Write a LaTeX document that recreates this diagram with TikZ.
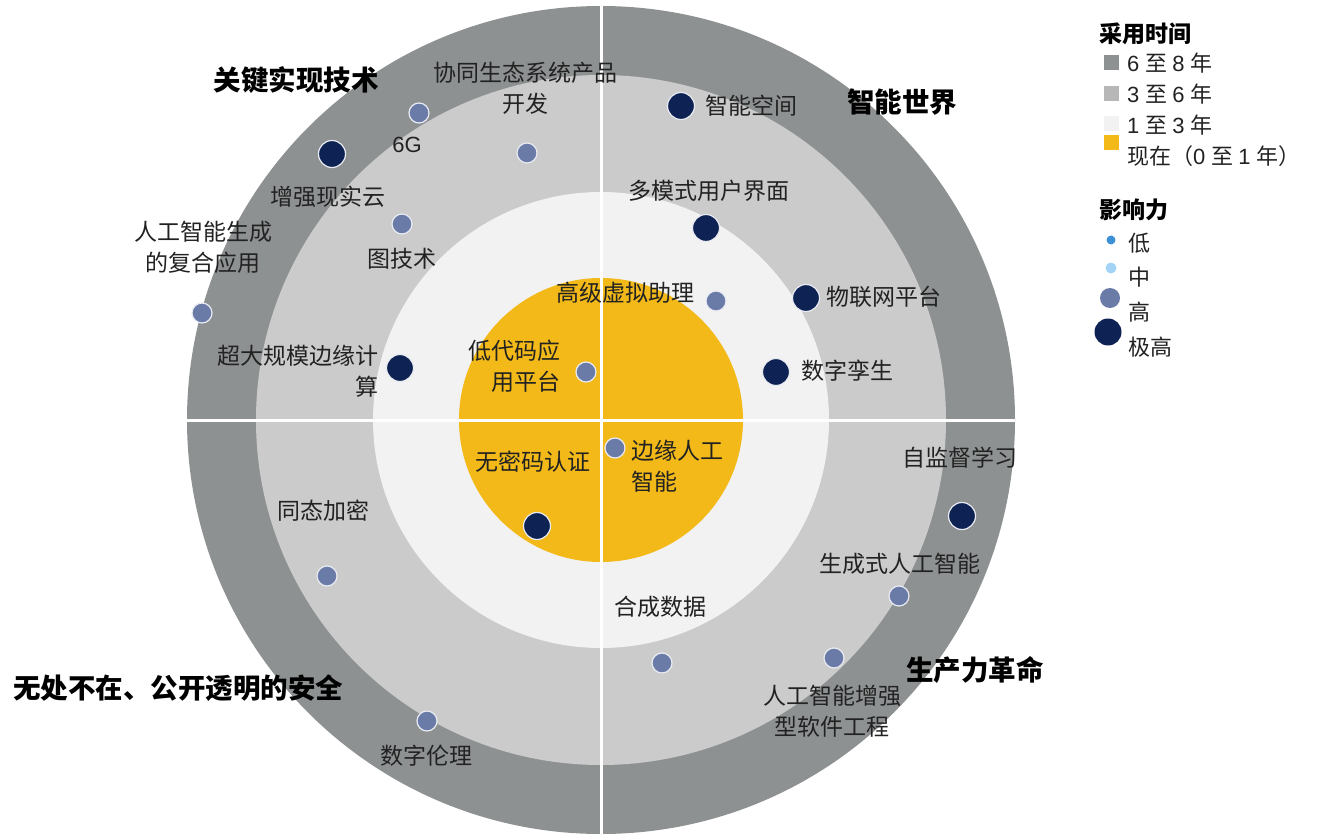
\documentclass[tikz,border=0pt]{standalone}
\usepackage{fontspec}
\setmainfont{Noto Sans CJK SC}
\newfontfamily\latinf{Liberation Sans}
\definecolor{ringA}{HTML}{8E9192}
\definecolor{ringB}{HTML}{CBCBCB}
\definecolor{ringC}{HTML}{F2F2F2}
\definecolor{ringD}{HTML}{F2B918}
\definecolor{navy}{HTML}{0E2353}
\definecolor{slate}{HTML}{6B7BA8}
\definecolor{lowblue}{HTML}{3D8FD6}
\definecolor{midblue}{HTML}{A3D4F5}
\definecolor{txt}{HTML}{222222}
\tikzset{
  dotx/.style={circle, fill=navy, draw=white!85!slate, line width=1.2pt, minimum size=27pt, inner sep=0pt},
  doth/.style={circle, fill=slate, draw=white!85!slate, line width=1.2pt, minimum size=20pt, inner sep=0pt},
  lbl/.style={text=txt, font=\fontsize{23}{31}\selectfont, align=center, inner sep=0pt},
  ttl/.style={text=black, font=\fontsize{27.5}{30}\selectfont\bfseries, inner sep=0pt},
  legt/.style={text=black, font=\fontsize{23}{26}\selectfont\bfseries, anchor=west, inner sep=0pt},
  legi/.style={text=txt, font=\fontsize{22}{26}\selectfont, anchor=west, inner sep=0pt},
  sq/.style={minimum size=15pt, inner sep=0pt}
}
\begin{document}
\begin{tikzpicture}[x=1pt,y=-1pt]
\useasboundingbox (0,0) rectangle (1320,837);
% rings
\fill[ringA] (601,420) circle[radius=414];
\fill[ringB] (601,420) circle[radius=345];
\fill[ringC] (601,420) circle[radius=228];
\fill[ringD] (601,420) circle[radius=142];
\draw[white, line width=3pt] (601,6) -- (601,834);
\draw[white, line width=3pt] (187,420) -- (1015,420);
% section titles
\node[ttl] (t1) at (296,80) {关键实现技术};
\node[ttl] (t2) at (902,102) {智能世界};
\node[ttl] (t3) at (178,688) {无处不在、公开透明的安全};
\node[ttl] (t4) at (975,670) {生产力革命};
% upper left
\node[doth] (d6g) at (419,113) {};
\node[lbl, font=\fontsize{22}{24}\selectfont\latinf] (l6g) at (407,145) {6G};
\node[dotx] (dar) at (332,154) {};
\node[lbl] (lar) at (328,197) {增强现实云};
\node[doth] (deco) at (527,153) {};
\node[lbl] (leco) at (525,88) {协同生态系统产品\\开发};
\node[doth] (dgraph) at (402,224) {};
\node[lbl] (lgraph) at (402,259) {图技术};
\node[doth] (dcomp) at (202,313) {};
\node[lbl] (lcomp) at (203,247) {人工智能生成\\的复合应用};
\node[dotx] (dedge) at (400,368) {};
\node[lbl, align=right, anchor=east] (ledge) at (379,371) {超大规模边缘计\\算};
\node[doth] (dlow) at (586,372) {};
\node[lbl, align=right, anchor=east] (llow) at (561,366) {低代码应\\用平台};
% upper right
\node[doth] (dva) at (716,301) {};
\node[lbl] (lva) at (625,293) {高级虚拟助理};
\node[dotx] (dspace) at (681,106) {};
\node[lbl, anchor=west] (lspace) at (705,106) {智能空间};
\node[dotx] (dui) at (706,228) {};
\node[lbl] (lui) at (709,191) {多模式用户界面};
\node[dotx] (diot) at (806,298) {};
\node[lbl, anchor=west] (liot) at (826,297) {物联网平台};
\node[dotx] (dtwin) at (776,372) {};
\node[lbl, anchor=west] (ltwin) at (801,371) {数字孪生};
% lower right
\node[doth] (deai) at (615,448) {};
\node[lbl, align=left, anchor=west] (leai) at (631,466) {边缘人工\\智能};
\node[dotx] (dssl) at (962,516) {};
\node[lbl] (lssl) at (960,458) {自监督学习};
\node[doth] (dgen) at (899,596) {};
\node[lbl] (lgen) at (900,564) {生成式人工智能};
\node[doth] (dsyn) at (662,663) {};
\node[lbl] (lsyn) at (660,607) {合成数据};
\node[doth] (dswe) at (834,658) {};
\node[lbl] (lswe) at (832,711) {人工智能增强\\型软件工程};
% lower left
\node[dotx] (dpw) at (537,526) {};
\node[lbl] (lpw) at (533,462) {无密码认证};
\node[doth] (dhe) at (327,576) {};
\node[lbl] (lhe) at (323,511) {同态加密};
\node[doth] (deth) at (427,721) {};
\node[lbl] (leth) at (426,756) {数字伦理};
% legend
\node[legt] (lg1) at (1099,34) {采用时间};
\node[sq, fill=ringA] (s1) at (1111,63) {};
\node[legi] (e1) at (1127,63) {\latinf 6 \rmfamily 至 \latinf 8 \rmfamily 年};
\node[sq, fill=ringB!90!black] (s2) at (1111,94) {};
\node[legi] (e2) at (1127,94) {\latinf 3 \rmfamily 至 \latinf 6 \rmfamily 年};
\node[sq, fill=ringC] (s3) at (1111,124) {};
\node[legi] (e3) at (1127,125) {\latinf 1 \rmfamily 至 \latinf 3 \rmfamily 年};
\node[sq, fill=ringD] (s4) at (1111,143) {};
\node[legi] (e4) at (1127,156) {现在（\latinf 0 \rmfamily 至 \latinf 1 \rmfamily 年）};
\node[legt] (lg2) at (1099,210) {影响力};
\node[circle, fill=lowblue, minimum size=9pt, inner sep=0pt] (c1) at (1111,240) {};
\node[legi] (f1) at (1128,243) {低};
\node[circle, fill=midblue, minimum size=11pt, inner sep=0pt] (c2) at (1111,268) {};
\node[legi] (f2) at (1128,277) {中};
\node[circle, fill=slate, minimum size=20pt, inner sep=0pt] (c3) at (1110,298) {};
\node[legi] (f3) at (1128,312) {高};
\node[circle, fill=navy, minimum size=27pt, inner sep=0pt] (c4) at (1108,332) {};
\node[legi] (f4) at (1128,347) {极高};
\end{tikzpicture}
\end{document}
